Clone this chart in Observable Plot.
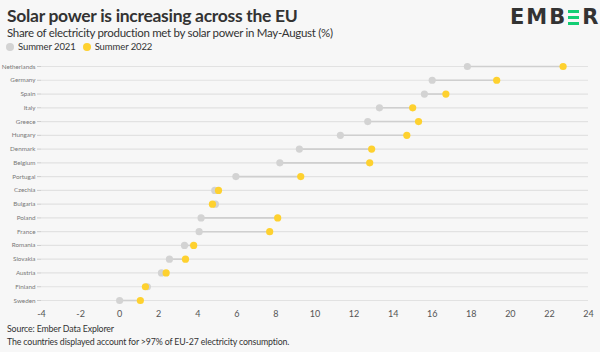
<!DOCTYPE html>
<html>
<head>
<meta charset="utf-8">
<script src="https://cdn.jsdelivr.net/npm/d3@7"></script>
<script src="https://cdn.jsdelivr.net/npm/@observablehq/plot@0.6"></script>
<style>
  html, body { margin: 0; padding: 0; background: #f7f7f7; }
  body { width: 600px; height: 352px; position: relative; overflow: hidden; font-family: Lato, "Open Sans", sans-serif; color: #333; }
  #title { position: absolute; left: 7px; top: 5px; font-size: 17.5px; font-weight: 700; color: #333; letter-spacing: -0.3px; white-space: nowrap; }
  #subtitle { position: absolute; left: 7px; top: 26px; font-size: 11.5px; color: #333; letter-spacing: -0.3px; white-space: nowrap; }
  #legend { position: absolute; left: 6px; top: 41px; font-size: 9.5px; color: #333; display: flex; align-items: center; letter-spacing: -0.1px; }
  #legend .sw { display: inline-block; width: 8px; height: 8px; border-radius: 50%; margin-right: 4px; }
  #legend .item { display: flex; align-items: center; margin-right: 7px; }
  #logo { position: absolute; left: 510px; top: 5px; font-size: 21px; font-weight: 900; color: #333; letter-spacing: 2px; display: flex; align-items: center; font-family: "DejaVu Sans", sans-serif;}
  #logo .bars { display: inline-flex; flex-direction: column; justify-content: space-between; width: 11px; height: 15px; margin: 0 3px 0 1px; }
  #logo .bars div { background: #13ce74; height: 3px; }
  #chart { position: absolute; left: 0; top: 56px; }
  #chart svg { display: block; }
  #footer { position: absolute; left: 7px; top: 323px; font-size: 8.8px; color: #333; line-height: 12.5px; letter-spacing: -0.15px; white-space: nowrap; }
</style>
</head>
<body>
<div id="title">Solar power is increasing across the EU</div>
<div id="subtitle">Share of electricity production met by solar power in May-August (%)</div>
<div id="legend">
  <span class="item"><span class="sw" style="background:#d3d3d3"></span>Summer 2021</span>
  <span class="item"><span class="sw" style="background:#fed12f"></span>Summer 2022</span>
</div>
<div id="logo"><span>EMB</span><span class="bars"><div></div><div></div><div></div></span><span>R</span></div>
<div id="chart"></div>
<div id="footer">Source: Ember Data Explorer<br>The countries displayed account for &gt;97% of EU-27 electricity consumption.</div>
<script>
const countries = ["Netherlands","Germany","Spain","Italy","Greece","Hungary","Denmark","Belgium","Portugal","Czechia","Bulgaria","Poland","France","Romania","Slovakia","Austria","Finland","Sweden"];
const summer2021 = [17.8,16.0,15.6,13.3,12.7,11.3,9.2,8.2,5.95,4.87,4.9,4.17,4.07,3.32,2.55,2.14,1.42,0.0];
const summer2022 = [22.7,19.3,16.7,15.0,15.3,14.7,12.9,12.8,9.27,5.06,4.75,8.09,7.68,3.79,3.37,2.38,1.32,1.06];
const xTicks = [-4,-2,0,2,4,6,8,10,12,14,16,18,20,22,24];
const referenceLine = 10;

const rows = countries.map((c, i) => ({country: c, a: summer2021[i], b: summer2022[i]}));

const step = 234 / 17;
const chart = Plot.plot({
  width: 600,
  height: 265,
  marginLeft: 41,
  marginRight: 12,
  marginTop: 3,
  marginBottom: 14,
  style: {background: "transparent", fontFamily: "Lato, 'Open Sans', sans-serif"},
  x: {domain: [-4, 24], range: [41, 588], ticks: xTicks, tickFormat: d => String(d)},
  y: {type: "point", domain: countries, padding: 0.5, round: false, range: [10 - step / 2, 244 + step / 2]},
  marks: [
    Plot.ruleY(countries, {y: d => d, x1: -4, x2: 24, stroke: "#e2e2e2", strokeWidth: 1.2}),
    Plot.ruleX(xTicks, {x: d => d, y1: countries[0], y2: countries[countries.length - 1], stroke: "#e2e2e2", strokeWidth: 1.2}),
    Plot.ruleX([referenceLine], {x: d => d, y1: countries[0], y2: countries[countries.length - 1], stroke: "#555", strokeWidth: 1.2, strokeDasharray: "2.5,2"}),
    Plot.link(rows, {x1: "a", x2: "b", y1: "country", y2: "country", stroke: "#cfcfcf", strokeWidth: 1.6}),
    Plot.dot(rows, {x: "a", y: "country", r: 3.6, fill: "#d3d3d3"}),
    Plot.dot(rows, {x: "b", y: "country", r: 3.6, fill: "#fed12f"}),
    Plot.axisX({ticks: xTicks, tickFormat: d => String(d), tickSize: 0, tickPadding: 3, fontSize: 9, fill: "#555"}),
    Plot.axisY({tickSize: 4, tickPadding: 2, fontSize: 6.3, fill: "#777", stroke: "#ccc"})
  ]
});
document.getElementById("chart").appendChild(chart);
</script>
</body>
</html>
